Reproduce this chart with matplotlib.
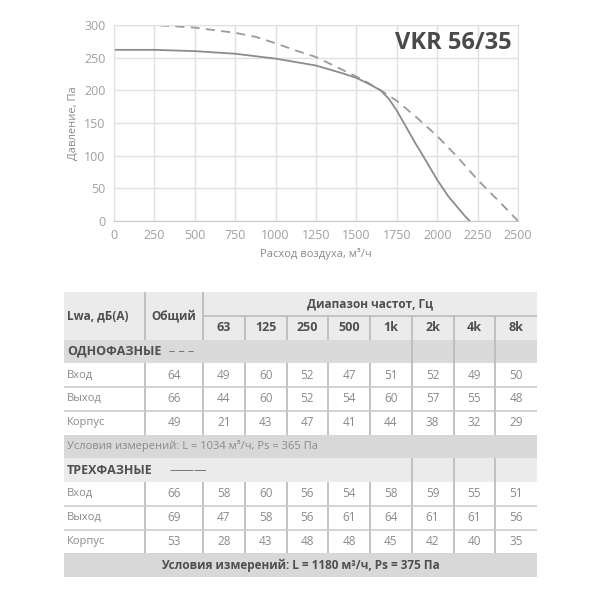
import matplotlib
matplotlib.use("Agg")
import matplotlib.pyplot as plt
from matplotlib.patches import Rectangle

plt.rcParams['font.family'] = ['Open Sans', 'DejaVu Sans']

# ---------------- data ----------------
flow_single = [0, 250, 500, 750, 875, 1000, 1125, 1250, 1375, 1500, 1568, 1650, 1750,
               1875, 2000, 2125, 2250, 2375, 2500]
press_single = [300, 300, 296, 288, 282, 272, 261, 251, 236, 221, 212, 200, 184,
                158, 130, 98, 63, 32, 0]

flow_three = [0, 250, 500, 750, 1000, 1250, 1415, 1500, 1568, 1650, 1701, 1750, 1803,
              1865, 1926, 2000, 2068, 2129, 2170, 2201]
press_three = [262, 262, 260, 256, 248.5, 238, 226, 219, 211, 200, 187, 169, 146,
               119, 94, 63, 38, 20, 8, 0]

x_ticks = [0, 250, 500, 750, 1000, 1250, 1500, 1750, 2000, 2250, 2500]
y_ticks = [0, 50, 100, 150, 200, 250, 300]

title = "VKR 56/35"
x_label = "Расход воздуха, м³/ч"
y_label = "Давление, Па"

freq_labels = ["63", "125", "250", "500", "1k", "2k", "4k", "8k"]
row_labels = ["Вход", "Выход", "Корпус"]
single_total = [64, 66, 49]
single_vals = [
    [49, 60, 52, 47, 51, 52, 49, 50],
    [44, 60, 52, 54, 60, 57, 55, 48],
    [21, 43, 47, 41, 44, 38, 32, 29],
]
three_total = [66, 69, 53]
three_vals = [
    [58, 60, 56, 54, 58, 59, 55, 51],
    [47, 58, 56, 61, 64, 61, 61, 56],
    [28, 43, 48, 48, 45, 42, 40, 35],
]
single_title = "ОДНОФАЗНЫЕ"
three_title = "ТРЕХФАЗНЫЕ"
single_cond = "Условия измерений: L = 1034 м³/ч, Ps = 365 Па"
three_cond = "Условия измерений: L = 1180 м³/ч, Ps = 375 Па"
hdr_label = "Lwa, дБ(A)"
hdr_total = "Общий"
hdr_range = "Диапазон частот, Гц"

# ---------------- figure ----------------
fig = plt.figure(figsize=(6, 6), dpi=100)
W = H = 600.0

ax = fig.add_axes([114 / W, 1 - 221 / H, 404 / W, 196 / H])
ax.plot(flow_single, press_single, color='#9a9a9a', lw=1.3, ls=(0, (5, 3.5)))
ax.plot(flow_three, press_three, color='#8c8c8c', lw=1.3)
ax.set_xlim(0, 2500)
ax.set_ylim(0, 300)
ax.set_xticks(x_ticks)
ax.set_yticks(y_ticks)
ax.grid(True, color='#e0e0e0', lw=1)
ax.set_axisbelow(True)
for s in ax.spines.values():
    s.set_color('#e0e0e0')
ax.spines['bottom'].set_color('#c8c8c8')
ax.tick_params(length=0, labelsize=9, labelcolor='#a0a0a0', pad=6)
ax.set_xlabel(x_label, fontsize=8, color='#8a8a8a', labelpad=4)
ax.set_ylabel(y_label, fontsize=8, color='#8a8a8a', labelpad=4)
ax.text(0.985, 0.91, title, transform=ax.transAxes, ha='right', va='center',
        fontsize=17, fontweight='bold', color='#4a4a4a')

# ---------------- table ----------------
tb = fig.add_axes([0, 0, 1, 1])
tb.set_xlim(0, W)
tb.set_ylim(H, 0)
tb.axis('off')

x0, x1, x2, xr = 64, 145, 203, 537
cw = (xr - x2) / 8.0
fx = [x2 + cw * i for i in range(9)]
y0 = 292
rh = 23.75
ry = [y0 + rh * i for i in range(13)]

HDR = '#ebebeb'
SEC1 = '#dadada'
SEC2 = '#ebebeb'
COND = '#d8d8d8'
SEP = '#bdbdbd'
HLINE = '#cccccc'
TXT_H = '#4f4f4f'
TXT_D = '#8a8a8a'
FS = 8.5


def rect(xa, ya, xb, yb, color):
    tb.add_patch(Rectangle((xa, ya), xb - xa, yb - ya, facecolor=color, edgecolor='none'))


def vline(x, ya, yb, color=SEP, lw=1.3):
    tb.plot([x, x], [ya, yb], color=color, lw=lw, solid_capstyle='butt')


def hline(y, xa, xb, color=HLINE, lw=1.2):
    tb.plot([xa, xb], [y, y], color=color, lw=lw, solid_capstyle='butt')


# header
rect(x0, ry[0], xr, ry[2], HDR)
vline(x1, ry[0], ry[2])
vline(x2, ry[0], ry[2])
hline(ry[1], x2, xr, color=SEP)
for i in range(1, 8):
    vline(fx[i], ry[1], ry[2])
tb.text(x0 + 3, (ry[0] + ry[2]) / 2, hdr_label, ha='left', va='center', fontsize=FS,
        fontweight='bold', color=TXT_H)
tb.text((x1 + x2) / 2, (ry[0] + ry[2]) / 2, hdr_total, ha='center', va='center', fontsize=FS,
        fontweight='bold', color=TXT_H)
tb.text((x2 + xr) / 2, (ry[0] + ry[1]) / 2, hdr_range, ha='center', va='center', fontsize=FS,
        fontweight='bold', color=TXT_H)
for i, lab in enumerate(freq_labels):
    tb.text((fx[i] + fx[i + 1]) / 2, (ry[1] + ry[2]) / 2, lab, ha='center', va='center',
            fontsize=FS + 0.5, fontweight='bold', color=TXT_H)


def section(r, title_txt, color, marker):
    rect(x0, ry[r], xr, ry[r + 1], color)
    for i in (5, 6, 7):
        vline(fx[i], ry[r], ry[r + 1])
    tb.text(x0 + 3, (ry[r] + ry[r + 1]) / 2, title_txt, ha='left', va='center',
            fontsize=FS + 0.5, fontweight='bold', color=TXT_H)
    tb.text(x0 + 105, (ry[r] + ry[r + 1]) / 2, marker, ha='left', va='center',
            fontsize=FS + 0.5, color='#6a6a6a')


def data_block(r, totals, vals):
    for k in range(3):
        ya, yb = ry[r + k], ry[r + k + 1]
        ym = (ya + yb) / 2
        vline(x1, ya, yb)
        vline(x2, ya, yb)
        for i in range(1, 8):
            vline(fx[i], ya, yb)
        if k > 0:
            hline(ya, x0, xr)
        tb.text(x0 + 3, ym, row_labels[k], ha='left', va='center', fontsize=FS - 0.5, color=TXT_D)
        tb.text((x1 + x2) / 2, ym, str(totals[k]), ha='center', va='center', fontsize=FS, color=TXT_D)
        for i, v in enumerate(vals[k]):
            tb.text((fx[i] + fx[i + 1]) / 2, ym, str(v), ha='center', va='center',
                    fontsize=FS, color=TXT_D)


section(2, single_title, SEC1, "– – –")
data_block(3, single_total, single_vals)
rect(x0, ry[6], xr, ry[7], COND)
tb.text(x0 + 3, (ry[6] + ry[7]) / 2, single_cond, ha='left', va='center', fontsize=FS - 0.5,
        color=TXT_D)
section(7, three_title, SEC2, "———")
data_block(8, three_total, three_vals)
rect(x0, ry[11], xr, ry[12], COND)
tb.text((x0 + xr) / 2, (ry[11] + ry[12]) / 2, three_cond, ha='center', va='center', fontsize=FS,
        fontweight='bold', color=TXT_H)

fig.savefig("out.png", dpi=100)
